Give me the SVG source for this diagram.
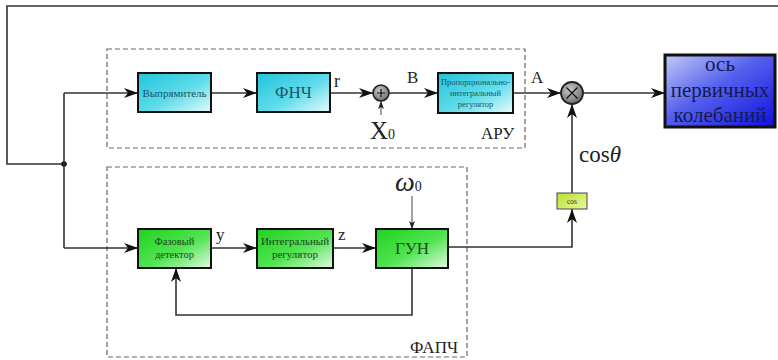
<svg xmlns="http://www.w3.org/2000/svg" width="778" height="360" viewBox="0 0 778 360" font-family="Liberation Serif, Times New Roman, serif">
<defs>
<linearGradient id="gCyan" x1="0" y1="0" x2="1" y2="1">
<stop offset="0" stop-color="#22c4dc"/><stop offset="0.55" stop-color="#5fdcea"/><stop offset="1" stop-color="#e6fbfd"/>
</linearGradient>
<linearGradient id="gGreen" x1="0" y1="0" x2="1" y2="1">
<stop offset="0" stop-color="#1fd21f"/><stop offset="0.55" stop-color="#52e452"/><stop offset="1" stop-color="#e2fae2"/>
</linearGradient>
<linearGradient id="gBlue" x1="0" y1="0" x2="1" y2="1">
<stop offset="0" stop-color="#c2cbf7"/><stop offset="0.45" stop-color="#5560ee"/><stop offset="1" stop-color="#1010dd"/>
</linearGradient>
<linearGradient id="gYel" x1="0" y1="0" x2="1" y2="1">
<stop offset="0" stop-color="#b8e02a"/><stop offset="1" stop-color="#e8f8a0"/>
</linearGradient>
<radialGradient id="gCirc" cx="0.4" cy="0.35" r="0.7">
<stop offset="0" stop-color="#c8c8c8"/><stop offset="1" stop-color="#6a6a6a"/>
</radialGradient>
<marker id="ah" markerWidth="14" markerHeight="10" refX="14" refY="5" orient="auto" markerUnits="userSpaceOnUse">
<path d="M0,0 L14,5 L0,10 L4,5 Z" fill="#111"/>
</marker>
<marker id="ahs" markerWidth="8" markerHeight="6" refX="8" refY="3" orient="auto" markerUnits="userSpaceOnUse">
<path d="M0,0 L8,3 L0,6 L2,3 Z" fill="#222"/>
</marker>
<style>
.ln{fill:none;stroke:#333;stroke-width:1.6}
.thin{fill:none;stroke:#444;stroke-width:1}
.dash{fill:none;stroke:#666;stroke-width:1.2;stroke-dasharray:5,3}
.bc{fill:url(#gCyan);stroke:#111;stroke-width:2}
.bg{fill:url(#gGreen);stroke:#111;stroke-width:2}
.t{text-anchor:middle}
.tc{fill:#1c5666}
.tg{fill:#1f4a1f}
.lbl{fill:#222}
</style>
</defs>

<g id="groups">
<rect class="dash" x="107" y="49" width="418" height="99"/>
<rect class="dash" x="107" y="167" width="360" height="190"/>
<text class="lbl" x="481" y="139" font-size="17">АРУ</text>
<text class="lbl" x="410" y="353" font-size="17">ФАПЧ</text>
</g>

<g id="connectors">
<polyline class="ln" points="778,6 7,6 7,164 64,164"/>
<circle cx="64" cy="164" r="2.8" fill="#111"/>
<polyline class="ln" points="64,93 64,248"/>
<line class="ln" x1="64" y1="93" x2="138" y2="93" marker-end="url(#ah)"/>
<line class="ln" x1="64" y1="248" x2="138" y2="248" marker-end="url(#ah)"/>
<line class="ln" x1="211" y1="93" x2="257" y2="93" marker-end="url(#ah)"/>
<line class="ln" x1="330" y1="93" x2="373" y2="93" marker-end="url(#ah)"/>
<line class="thin" x1="381" y1="115" x2="381" y2="101" marker-end="url(#ahs)"/>
<line class="ln" x1="389" y1="93" x2="438" y2="93" marker-end="url(#ah)"/>
<line class="ln" x1="513" y1="93" x2="561" y2="93" marker-end="url(#ah)"/>
<line class="ln" x1="583" y1="93" x2="665" y2="93" marker-end="url(#ah)"/>
<line class="ln" x1="572" y1="193" x2="572" y2="104" marker-end="url(#ah)"/>
<polyline class="ln" points="448,247 572,247 572,209" marker-end="url(#ah)"/>
<line class="thin" x1="412" y1="196" x2="412" y2="229" marker-end="url(#ahs)"/>
<polyline class="ln" points="412,268 412,315 176,315 176,268" marker-end="url(#ah)"/>
<line class="ln" x1="211" y1="248" x2="257" y2="248" marker-end="url(#ah)"/>
<line class="ln" x1="333" y1="248" x2="376" y2="248" marker-end="url(#ah)"/>
</g>

<g id="labels">
<text class="lbl" x="334" y="87" font-size="18">r</text>
<text class="lbl" x="407" y="83" font-size="17">B</text>
<text class="lbl" x="531" y="83" font-size="17">A</text>
<text class="lbl" x="370" y="139" font-size="25">X<tspan font-size="14">0</tspan></text>
<text class="lbl" x="579" y="162" font-size="23">cos<tspan font-style="italic">θ</tspan></text>
<text class="lbl" x="395" y="191" font-size="28" font-style="italic">ω<tspan font-style="normal" font-size="14">0</tspan></text>
<text class="lbl" x="216" y="240" font-size="17">y</text>
<text class="lbl" x="338" y="240" font-size="17">z</text>
</g>

<g id="vypr">
<rect class="bc" x="138" y="73" width="73" height="39"/>
<text class="t tc" x="174.5" y="96.5" font-size="11">Выпрямитель</text>
</g>
<g id="fnch">
<rect class="bc" x="257" y="73" width="73" height="39"/>
<text class="t tc" x="293.5" y="98" font-size="17">ФНЧ</text>
</g>
<g id="sum">
<circle cx="381" cy="93" r="8" fill="url(#gCirc)" stroke="#222" stroke-width="1.6"/>
<path d="M377,93 H385 M381,89 V97" stroke="#111" stroke-width="1.2"/>
</g>
<g id="pi">
<rect class="bc" x="438" y="73" width="75" height="40"/>
<text class="t tc" x="475.5" y="85" font-size="8.5">Пропорционально-</text>
<text class="t tc" x="475.5" y="96" font-size="8.5">интегральный</text>
<text class="t tc" x="475.5" y="107" font-size="8.5">регулятор</text>
</g>
<g id="mult">
<circle cx="572" cy="93" r="11" fill="url(#gCirc)" stroke="#222" stroke-width="1.8"/>
<path d="M566.5,87.5 L577.5,98.5 M577.5,87.5 L566.5,98.5" stroke="#111" stroke-width="1.3"/>
</g>
<g id="axis">
<rect x="665" y="55" width="110" height="72" fill="url(#gBlue)" stroke="#111" stroke-width="3"/>
<text class="t" x="720" y="71" font-size="21" fill="#141a50">ось</text>
<text class="t" x="720" y="97" font-size="21" fill="#141a50">первичных</text>
<text class="t" x="720" y="122" font-size="21" fill="#141a50">колебаний</text>
</g>
<g id="cosblk">
<rect x="557" y="193" width="30" height="16" fill="url(#gYel)" stroke="#445" stroke-width="1"/>
<text class="t" x="572" y="203.5" font-size="7.5" fill="#333">cos</text>
</g>
<g id="phasedet">
<rect class="bg" x="138" y="229" width="73" height="39"/>
<text class="t tg" x="174.5" y="245" font-size="10.5">Фазовый</text>
<text class="t tg" x="174.5" y="258" font-size="10.5">детектор</text>
</g>
<g id="integ">
<rect class="bg" x="257" y="229" width="76" height="39"/>
<text class="t tg" x="295" y="245" font-size="11">Интегральный</text>
<text class="t tg" x="295" y="258" font-size="11">регулятор</text>
</g>
<g id="gun">
<rect class="bg" x="376" y="229" width="72" height="39"/>
<text class="t tg" x="412" y="254" font-size="17">ГУН</text>
</g>
</svg>
